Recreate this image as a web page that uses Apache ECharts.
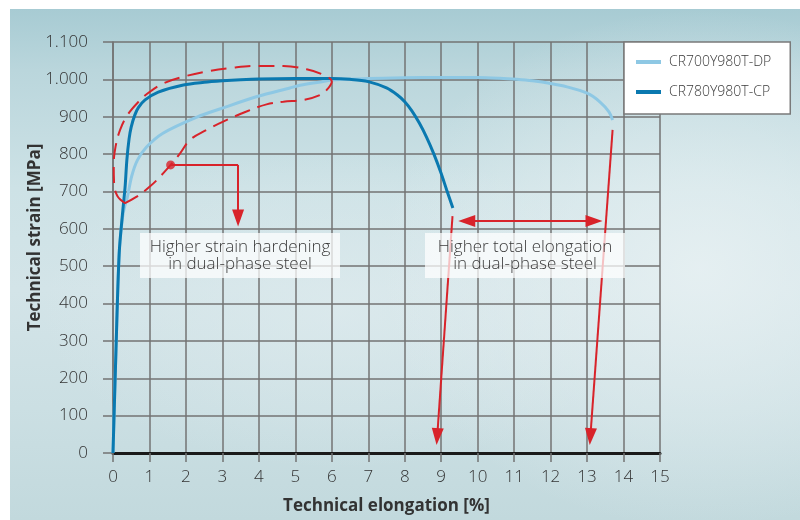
<!DOCTYPE html>
<html>
<head>
<meta charset="utf-8">
<script src="https://cdn.jsdelivr.net/npm/echarts@6/dist/echarts.min.js"></script>
<style>
  html, body { margin: 0; padding: 0; background: #ffffff; }
  #wrap { position: relative; width: 800px; height: 520px; background: #ffffff; overflow: hidden; }
  #bg { position: absolute; left: 10px; top: 9px; width: 790px; height: 511px;
        background:
          radial-gradient(ellipse 320px 260px at 690px 260px, rgba(232,241,243,0.85), rgba(232,241,243,0) 100%),
          radial-gradient(ellipse 300px 160px at 330px 300px, rgba(222,235,238,0.7), rgba(222,235,238,0) 100%),
          linear-gradient(to bottom, #a7cbd3 0%, #bad6dc 12%, #cde2e6 35%, #d3e4e8 55%, #cbdfe3 78%, #c2d9dd 100%); }
  #chart { position: absolute; left: 0; top: 0; width: 800px; height: 520px; }
</style>
</head>
<body>
<div id="wrap"><div id="bg"></div><div id="chart"></div></div>
<script>
// ---- data (elongation %, stress MPa) ----
const seriesNames = ['CR700Y980T-DP', 'CR780Y980T-CP'];

const dpElong = [0, 0.08, 0.17, 0.26, 0.32, 0.39, 0.51, 0.67, 0.92, 1.37, 2.3, 3.0, 3.95, 4.85, 5.13, 5.76, 6.03, 7.0, 8.0, 9.0, 10.0, 10.6, 11.07, 11.5, 12.0, 12.45, 13.0, 13.35, 13.6, 13.7];
const dpStress = [0, 270, 535, 630, 660, 683, 740, 784, 819, 856, 899, 923, 954, 977, 984, 994, 998, 1002, 1004, 1005, 1005, 1003, 1000, 996, 989, 980, 963, 940, 913, 891];

const cpElong = [0, 0.08, 0.17, 0.27, 0.33, 0.38, 0.44, 0.5, 0.6, 0.7, 0.88, 1.24, 1.93, 2.5, 3.0, 3.5, 4.0, 5.0, 6.0, 6.5, 7.0, 7.5, 7.8, 8.0, 8.2, 8.4, 8.6, 8.8, 9.0, 9.15, 9.32];
const cpStress = [0, 270, 535, 650, 710, 784, 840, 873, 905, 925, 945, 966, 985, 992, 996, 999, 1001, 1002, 1002, 1000, 994, 977, 958, 940, 915, 883, 845, 800, 748, 704, 656];

// dashed outline around the strain-hardening region
const loopElong = [0.33, 0.12, 0.03, 0.02, 0.07, 0.2, 0.4, 0.7, 1.0, 1.38, 1.93, 2.57, 3.21, 3.94, 4.67, 5.31, 5.77, 6.0, 5.9, 5.68, 5.22, 4.67, 4.21, 3.66, 3.02, 2.57, 2.11, 1.84, 1.38, 1.01, 0.65, 0.33];
const loopStress = [669, 688, 722, 770, 820, 866, 905, 940, 966, 989, 1007, 1021, 1030, 1036, 1036, 1027, 1012, 994, 976, 958, 945, 940, 933, 914, 887, 865, 838, 802, 749, 713, 686, 669];

const dotPoint = [1.58, 771];
const pointerCorner = [3.43, 771];
const pointerEnd = [3.43, 629];
const leftDropStart = [9.31, 634], leftDropEnd = [8.89, 44];
const rightDropStart = [13.7, 865], rightDropEnd = [13.09, 44];
const spanFrom = [9.70, 621], spanTo = [13.19, 621];

const xTicks = { min: 0, max: 15, interval: 1 };
const yTicks = { min: 0, max: 1100, interval: 100 };

const label1 = 'Higher strain hardening\nin dual-phase steel';
const label2 = 'Higher total elongation\nin dual-phase steel';

// ---- build ----
const zip = (a, b) => a.map((v, i) => [v, b[i]]);
const RED = '#d8232a';
const FONT = '"Open Sans", Lato, sans-serif';
const GRIDC = '#737373';
const TXT = '#333333';

const chart = echarts.init(document.getElementById('chart'), null, { renderer: 'canvas' });

const arrowLine = (a, b, startSym, endSym) => [
  { coord: a, symbol: startSym },
  { coord: b, symbol: endSym }
];

chart.setOption({
  backgroundColor: 'transparent',
  animation: false,
  textStyle: { fontFamily: FONT },
  grid: { left: 113, top: 42, right: 140, bottom: 67, containLabel: false },
  legend: {
    data: seriesNames,
    orient: 'vertical',
    left: 624, top: 42,
    padding: [12, 19, 14, 12],
    itemGap: 14,
    itemWidth: 25, itemHeight: 4,
    icon: 'rect',
    backgroundColor: '#ffffff',
    borderColor: '#7a7a7a', borderWidth: 1.5,
    textStyle: { fontSize: 14, color: '#3a3a3a', fontFamily: FONT, fontWeight: 300, lineHeight: 16, padding: [0, 0, 0, 3] },
    selectedMode: false
  },
  xAxis: {
    type: 'value', min: xTicks.min, max: xTicks.max, interval: xTicks.interval,
    name: 'Technical elongation [%]', nameLocation: 'middle', nameGap: 45, nameMoveOverlap: false,
    nameTextStyle: { fontSize: 17, fontWeight: 'bold', color: TXT, fontFamily: FONT },
    axisLine: { show: true, onZero: false, lineStyle: { color: '#1a1a1a', width: 3 } },
    axisTick: { show: true, length: 9, lineStyle: { color: GRIDC, width: 1.5 } },
    axisLabel: { margin: 16, fontSize: 17, fontWeight: 300, color: TXT, fontFamily: FONT },
    splitLine: { show: true, lineStyle: { color: GRIDC, width: 1.5 } }
  },
  yAxis: {
    type: 'value', min: yTicks.min, max: yTicks.max, interval: yTicks.interval,
    name: 'Technical strain [MPa]', nameLocation: 'middle', nameGap: 69, nameRotate: 90, nameMoveOverlap: false,
    nameTextStyle: { fontSize: 17, fontWeight: 'bold', color: TXT, fontFamily: FONT, padding: [0, 0, 0, 20] },
    axisLine: { show: true, lineStyle: { color: GRIDC, width: 1.5 } },
    axisTick: { show: true, length: 10, lineStyle: { color: GRIDC, width: 1.5 } },
    axisLabel: {
      margin: 25, fontSize: 17, fontWeight: 300, color: TXT, fontFamily: FONT,
      formatter: v => String(v).replace(/\B(?=(\d{3})+(?!\d))/g, '.')
    },
    splitLine: { show: true, lineStyle: { color: GRIDC, width: 1.5 } }
  },
  series: [
    {
      name: seriesNames[1], type: 'line', data: zip(cpElong, cpStress),
      smooth: 0.3, symbol: 'none', z: 4,
      lineStyle: { color: '#0a79b0', width: 3 }, itemStyle: { color: '#0a79b0' }
    },
    {
      name: seriesNames[0], type: 'line', data: zip(dpElong, dpStress),
      smooth: 0.3, symbol: 'none', z: 3,
      lineStyle: { color: '#8ec8e4', width: 3 }, itemStyle: { color: '#8ec8e4' }
    },
    {
      name: 'outline', type: 'line', data: zip(loopElong, loopStress),
      smooth: 0.4, symbol: 'none', silent: true, z: 5,
      lineStyle: { color: RED, width: 2, type: [16, 8] }
    },
    {
      name: 'dot', type: 'scatter', data: [dotPoint], symbolSize: 9, silent: true, z: 6,
      itemStyle: { color: RED }
    },
    {
      name: 'arrows', type: 'line', data: [], silent: true, z: 6,
      markLine: {
        silent: true, animation: false,
        symbolSize: [12, 17],
        label: { show: false },
        emphasis: { disabled: true },
        lineStyle: { color: RED, width: 2, type: 'solid' },
        itemStyle: { color: RED },
        data: [
          arrowLine(dotPoint, pointerCorner, 'none', 'none'),
          arrowLine(pointerCorner, pointerEnd, 'none', 'triangle'),
          arrowLine(leftDropStart, leftDropEnd, 'none', 'triangle'),
          arrowLine(rightDropStart, rightDropEnd, 'none', 'triangle'),
          arrowLine(spanFrom, spanTo, 'triangle', 'triangle')
        ]
      }
    }
  ],
  graphic: [
    { type: 'rect', z: 100, silent: true, shape: { x: 140, y: 233, width: 200, height: 45 },
      style: { fill: 'rgba(255,255,255,0.72)' } },
    { type: 'text', z: 101, silent: true, x: 240, y: 256,
      style: { text: label1, fill: '#3a3a3a', font: '300 17px ' + FONT, align: 'center', verticalAlign: 'middle', lineHeight: 17 } },
    { type: 'rect', z: 100, silent: true, shape: { x: 425, y: 233, width: 200, height: 45 },
      style: { fill: 'rgba(255,255,255,0.72)' } },
    { type: 'text', z: 101, silent: true, x: 525, y: 256,
      style: { text: label2, fill: '#3a3a3a', font: '300 17px ' + FONT, align: 'center', verticalAlign: 'middle', lineHeight: 17 } }
  ]
});
</script>
</body>
</html>
